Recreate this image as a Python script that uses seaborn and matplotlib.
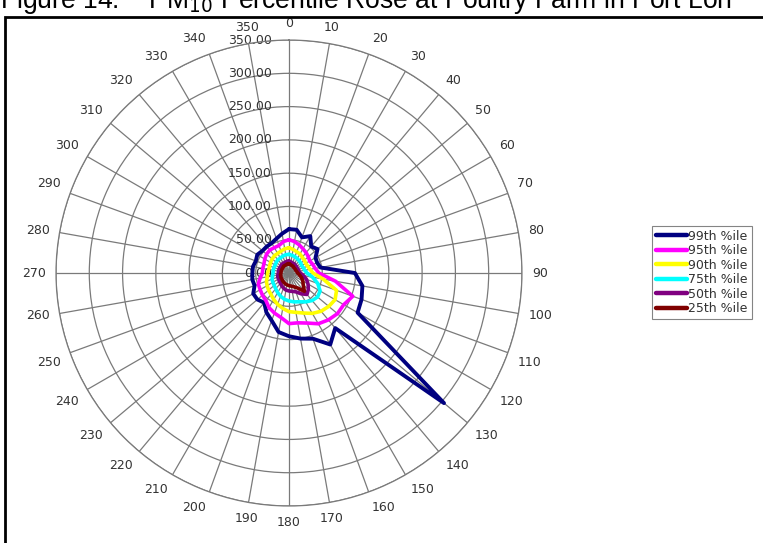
import numpy as np
import pandas as pd
import matplotlib
matplotlib.use("Agg")
import matplotlib.pyplot as plt
import matplotlib.transforms as mtransforms
from matplotlib.lines import Line2D
from matplotlib.patches import Rectangle
import seaborn as sns

# wind directions (degrees) and percentile values (ug/m3)
directions = list(range(0, 360, 10))
p99 = [66, 66, 57, 64, 52, 56, 46, 45, 48, 99, 112, 116, 119, 304, 108, 124, 105, 100,
       95, 90, 76, 68, 58, 62, 62, 55, 56, 55, 55, 53, 55, 52, 52, 52, 55, 60]
p95 = [50, 48, 45, 42, 40, 38, 36, 38, 40, 45, 71, 102, 95, 95, 92, 88, 80, 76,
       76, 68, 64, 60, 54, 52, 50, 49, 44, 40, 40, 40, 42, 44, 45, 44, 44, 48]
p90 = [38, 36, 34, 33, 31, 30, 29, 30, 32, 36, 52, 76, 80, 78, 75, 70, 64, 60,
       58, 54, 50, 46, 42, 40, 38, 36, 33, 32, 31, 31, 32, 33, 34, 34, 35, 37]
p75 = [28, 27, 26, 25, 24, 23, 22, 23, 24, 27, 36, 46, 54, 56, 54, 50, 46, 44,
       42, 40, 37, 34, 31, 29, 28, 27, 25, 24, 24, 24, 24, 25, 26, 26, 27, 28]
p50 = [18, 17, 16, 16, 15, 15, 14, 15, 15, 17, 22, 28, 33, 38, 42, 36, 30, 28,
       27, 26, 24, 22, 20, 19, 18, 18, 17, 16, 16, 16, 16, 16, 17, 17, 17, 18]
p25 = [14, 13, 12, 12, 11, 11, 11, 11, 12, 13, 16, 20, 24, 28, 36, 26, 22, 20,
       19, 18, 17, 16, 15, 14, 14, 13, 13, 12, 12, 12, 12, 12, 13, 13, 13, 14]

series_names = ["99th %ile", "95th %ile", "90th %ile", "75th %ile", "50th %ile", "25th %ile"]
series_vals = [p99, p95, p90, p75, p50, p25]
colors = ["#000080", "#FF00FF", "#FFFF00", "#00FFFF", "#800080", "#800000"]
r_ticks = [0, 50, 100, 150, 200, 250, 300, 350]

# long table, each polygon closed back to 0 deg
rows = []
for name, vals in zip(series_names, series_vals):
    for d, v in zip(directions + [360], vals + [vals[0]]):
        rows.append({"series": name, "theta": np.deg2rad(d), "value": v})
df = pd.DataFrame(rows)

sns.set_style("white")
plt.rcParams['font.family'] = ['DejaVu Sans']

fig = plt.figure(figsize=(7.63, 5.43), dpi=100)
ax = fig.add_axes([0.0734, 0.0681, 0.6107, 0.8582], projection="polar")
ax.set_theta_zero_location("N")
ax.set_theta_direction(-1)

sns.lineplot(data=df, x="theta", y="value", hue="series", hue_order=series_names,
             palette=colors, sort=False, estimator=None, units="series",
             linewidth=2.6, legend=False, ax=ax)
ax.lines[0].set_linewidth(2.8)

ax.set_ylim(0, 350)
ax.set_yticks(r_ticks)
ax.set_yticklabels([])
ax.set_xticks(np.deg2rad(directions))
ax.set_xticklabels([])
ax.grid(True, color="#7a7a7a", linewidth=0.9)
ax.spines["polar"].set_color("#7a7a7a")
ax.spines["polar"].set_linewidth(0.9)
ax.set_xlabel("")
ax.set_ylabel("")

# direction labels just outside the ring
gap = 10
for d in directions:
    t = np.deg2rad(d)
    s, c = np.sin(t), np.cos(t)
    ha = "left" if s > 0.2 else ("right" if s < -0.2 else "center")
    va = "bottom" if c > 0.2 else ("top" if c < -0.2 else "center")
    ax.annotate(str(d), xy=(t, 350), xytext=(gap * s, gap * c),
                textcoords="offset pixels", ha=ha, va=va,
                fontsize=9, color="#333333", annotation_clip=False)

# radial value labels left of the 0 deg spoke, under the lines
off = mtransforms.offset_copy(ax.transData, fig=fig, x=-17, y=0, units="dots")
for r in r_ticks:
    ax.text(0, r, f"{r:.2f}", transform=off, ha="right", va="center",
            fontsize=9, color="#333333", zorder=1.5)

handles = [Line2D([0], [0], color=c, lw=3.2) for c in colors]
leg = fig.legend(handles, series_names, loc="upper left",
                 bbox_to_anchor=(652 / 763, 1 - 226 / 543), frameon=True,
                 fontsize=9, handlelength=2.5, handletextpad=0.1,
                 labelspacing=0.12, borderpad=0.3, borderaxespad=0, fancybox=False)
leg.get_frame().set_edgecolor("#666666")
leg.get_frame().set_linewidth(0.8)
for t in leg.get_texts():
    t.set_color("#333333")

# frame of the figure and clipped caption
fig.patches.append(Rectangle((5 / 763, -0.05), 1.1, 1 - 17 / 543 + 0.05,
                             transform=fig.transFigure, fill=False,
                             edgecolor="black", linewidth=2))
fig.text(0.0, 1 - 8 / 543,
         "Figure 14:    PM$_{10}$ Percentile Rose at Poultry Farm in Port Loh",
         ha="left", va="baseline", fontsize=19.1, color="black",
         family=["Liberation Sans", "DejaVu Sans"])

fig.savefig("out.png", dpi=100)
